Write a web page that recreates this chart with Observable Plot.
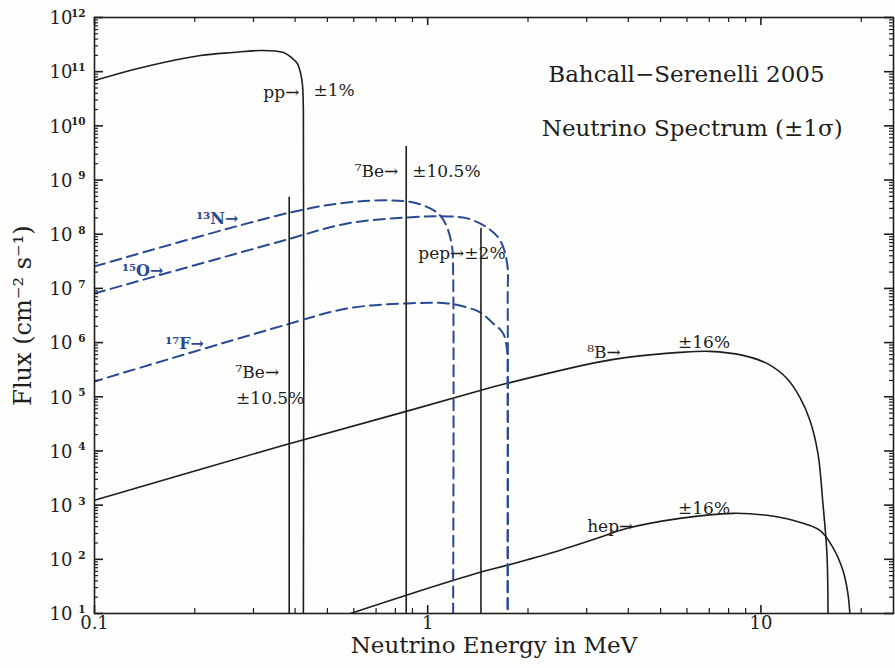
<!DOCTYPE html>
<html><head><meta charset="utf-8">
<script src="https://cdn.jsdelivr.net/npm/d3@7"></script>
<script src="https://cdn.jsdelivr.net/npm/@observablehq/plot@0.6"></script>
<style>
body{margin:0;background:#fdfdfb;}
#chart svg{font-family:"DejaVu Serif",serif;}
</style>
</head><body><div id="chart"></div>
<script>
// ---- Spectra (energy in MeV, flux in cm^-2 s^-1 [MeV^-1]) ----
const ppE      = [0.1, 0.147, 0.208, 0.26, 0.315, 0.369, 0.393, 0.406, 0.415, 0.421, 0.4235, 0.4235];
const ppFlux   = [6.88e10, 1.30e11, 1.99e11, 2.26e11, 2.46e11, 2.26e11, 1.75e11, 1.42e11, 9.66e10, 5.56e10, 1.9e10, 10];

const b8E      = [0.1, 0.361, 0.862, 1.437, 1.731, 3.22, 3.97, 5.71, 7.03, 8.83, 10.42, 11.97, 13.09, 14.03, 14.83, 15.35, 15.78, 15.9];
const b8Flux   = [1.23e3, 1.22e4, 5.38e4, 1.31e5, 1.77e5, 4.31e5, 5.33e5, 6.59e5, 6.89e5, 5.81e5, 4.13e5, 2.18e5, 9.75e4, 3.67e4, 9.0e3, 1.08e3, 129, 10];

const hepE     = [0.586, 0.862, 1.437, 1.731, 2.50, 3.22, 3.97, 5.71, 8.24, 10.42, 12.47, 15.03, 16.44, 17.62, 18.24, 18.49];
const hepFlux  = [10, 21.7, 57.5, 77.5, 147, 244, 373, 570, 706, 649, 525, 343, 166, 62.7, 23.6, 10];

const n13E     = [0.1, 0.387, 0.574, 0.772, 0.905, 1.017, 1.09, 1.144, 1.184, 1.192, 1.192];
const n13Flux  = [2.55e7, 2.52e8, 3.86e8, 4.21e8, 3.86e8, 2.99e8, 2.22e8, 1.33e8, 5.7e7, 2.15e7, 10];

const o15E     = [0.1, 0.361, 0.574, 0.868, 1.144, 1.313, 1.508, 1.650, 1.731, 1.738, 1.738];
const o15Flux  = [8.09e6, 7.36e7, 1.58e8, 2.04e8, 2.13e8, 1.96e8, 1.33e8, 7.69e7, 2.89e7, 6.0e6, 10];

const f17E     = [0.1, 0.361, 0.574, 0.868, 1.144, 1.313, 1.437, 1.572, 1.684, 1.731, 1.737, 1.737];
const f17Flux  = [1.92e5, 1.99e6, 4.27e6, 5.29e6, 5.29e6, 4.46e6, 3.61e6, 2.26e6, 1.48e6, 7.18e5, 2.0e5, 10];

// line sources
const lineE    = [0.384, 0.862, 1.445];
const lineFlux = [4.8e8, 4.17e9, 1.28e8];

// ---- annotations ----
const annText   = ["pp→", "±1%", "⁷Be→", "±10.5%", "⁷Be→", "±10.5%", "pep→±2%", "⁸B→", "±16%", "hep→", "±16%"];
const annE      = [0.412, 0.454, 0.816, 0.899, 0.265, 0.266, 0.937, 3.01, 5.64, 3.01, 5.64];
const annFlux   = [4.13e10, 4.5e10, 1.44e9, 1.44e9, 2.82e5, 9.33e4, 4.43e7, 6.59e5, 1.01e6, 406, 873];
const annAnchor = ["end", "start", "end", "start", "start", "start", "start", "start", "start", "start", "start"];

const cnoText   = ["¹³N→", "¹⁵O→", "¹⁷F→"];
const cnoE      = [0.202, 0.121, 0.163];
const cnoFlux   = [1.96e8, 2.15e7, 9.67e5];

const titleText = ["Bahcall−Serenelli 2005", "Neutrino Spectrum (±1σ)"];
const titleE    = [2.30, 2.20];
const titleFlux = [8.87e10, 8.95e9];

// ---- ticks ----
const yExp      = [1,2,3,4,5,6,7,8,9,10,11,12];
const yMajor    = yExp.map(e => Math.pow(10, e));
const yMinor    = yExp.slice(0, -1).flatMap(e => [2,3,4,5,6,7,8,9].map(m => m * Math.pow(10, e)));
const xMajor    = [0.1, 1, 10];
const xTickLabels = ["0.1", "1", "10"];
const xMinor    = [-1, 0, 1].flatMap(e => [2,3,4,5,6,7,8,9].map(m => m * Math.pow(10, e))).filter(v => v < 25);

const W = 895, H = 668, ML = 94, MR = 2, MT = 17, MB = 55;
const PW = W - ML - MR, PH = H - MT - MB;

const pts = (E, F) => E.map((e, i) => ({E: e, F: F[i]}));
const blue = "#2a4994";
const ink = "#1e1e1e";

const curves = [pts(ppE, ppFlux), pts(b8E, b8Flux), pts(hepE, hepFlux)];
const cno = [pts(n13E, n13Flux), pts(o15E, o15Flux), pts(f17E, f17Flux)];
const lines = pts(lineE, lineFlux);
const ann = annText.map((t, i) => ({t, E: annE[i], F: annFlux[i], a: annAnchor[i]}));
const cnoAnn = cnoText.map((t, i) => ({t, E: cnoE[i], F: cnoFlux[i]}));
const titles = titleText.map((t, i) => ({t, E: titleE[i], F: titleFlux[i]}));

const marks = [];
for (const c of curves) {
  marks.push(Plot.line(c, {x: "E", y: "F", stroke: ink, strokeWidth: 1.6, curve: "catmull-rom", clip: true}));
}
cno.forEach((c, i) => {
  marks.push(Plot.line(c, {x: "E", y: "F", stroke: blue, strokeWidth: 2, strokeDasharray: "11,6",
    strokeDashoffset: i === 2 ? 3 : 0, curve: "catmull-rom", clip: true}));
});
marks.push(Plot.ruleX(lines, {x: "E", y1: 10, y2: "F", stroke: ink, strokeWidth: 1.6}));

// annotations
marks.push(Plot.text(ann.filter(d => d.a === "end"), {x: "E", y: "F", text: "t", textAnchor: "end", fontSize: 17, fill: ink}));
marks.push(Plot.text(ann.filter(d => d.a === "start"), {x: "E", y: "F", text: "t", textAnchor: "start", fontSize: 17, fill: ink}));
marks.push(Plot.text(cnoAnn, {x: "E", y: "F", text: "t", textAnchor: "start", fontSize: 16, fontWeight: "bold", fill: blue}));
marks.push(Plot.text(titles, {x: "E", y: "F", text: "t", textAnchor: "start", fontSize: 23, fill: ink}));

// frame & inward ticks
marks.push(Plot.frame({stroke: ink, strokeWidth: 1.6}));
marks.push(Plot.tickY(yMajor, {y: d => d, insetRight: PW - 9, stroke: ink, strokeWidth: 1.6}));
marks.push(Plot.tickY(yMajor, {y: d => d, insetLeft: PW - 9, stroke: ink, strokeWidth: 1.6}));
marks.push(Plot.tickY(yMinor, {y: d => d, insetRight: PW - 4, stroke: ink, strokeWidth: 1.2}));
marks.push(Plot.tickY(yMinor, {y: d => d, insetLeft: PW - 4, stroke: ink, strokeWidth: 1.2}));
marks.push(Plot.tickX(xMajor, {x: d => d, insetTop: PH - 8, stroke: ink, strokeWidth: 1.6}));
marks.push(Plot.tickX(xMajor, {x: d => d, insetBottom: PH - 8, stroke: ink, strokeWidth: 1.6}));
marks.push(Plot.tickX(xMinor, {x: d => d, insetTop: PH - 5, stroke: ink, strokeWidth: 1.2}));
marks.push(Plot.tickX(xMinor, {x: d => d, insetBottom: PH - 5, stroke: ink, strokeWidth: 1.2}));

// y tick labels "10" + exponent
marks.push(Plot.text(yMajor, {y: d => d, frameAnchor: "left", text: () => "10", textAnchor: "end", dx: -22, dy: 1, fontSize: 18, fill: ink}));
marks.push(Plot.text(yMajor, {y: d => d, frameAnchor: "left", text: (d, i) => String(yExp[i]), textAnchor: "end", dx: -9, dy: -4, fontSize: 10.5, fontWeight: "bold", fill: ink}));
// x tick labels
marks.push(Plot.text(xMajor, {x: d => d, frameAnchor: "bottom", text: (d, i) => xTickLabels[i], dy: 15, fontSize: 18, fill: ink}));
// axis titles
marks.push(Plot.text(["Neutrino Energy in MeV"], {frameAnchor: "bottom", text: d => d, textAnchor: "middle", dy: 39, fontSize: 23, fill: ink}));
marks.push(Plot.text(["Flux (cm⁻² s⁻¹)"], {frameAnchor: "left", text: d => d, textAnchor: "middle", rotate: -90, dx: -71, fontSize: 24, fill: ink}));

const chart = Plot.plot({
  width: W, height: H,
  marginLeft: ML, marginRight: MR, marginTop: MT, marginBottom: MB,
  style: {background: "transparent", fontFamily: "DejaVu Serif, serif", overflow: "visible"},
  x: {type: "log", domain: [0.1, 25], axis: null},
  y: {type: "log", domain: [10, 1e12], axis: null},
  marks
});
document.getElementById("chart").appendChild(chart);
</script>
</body></html>
